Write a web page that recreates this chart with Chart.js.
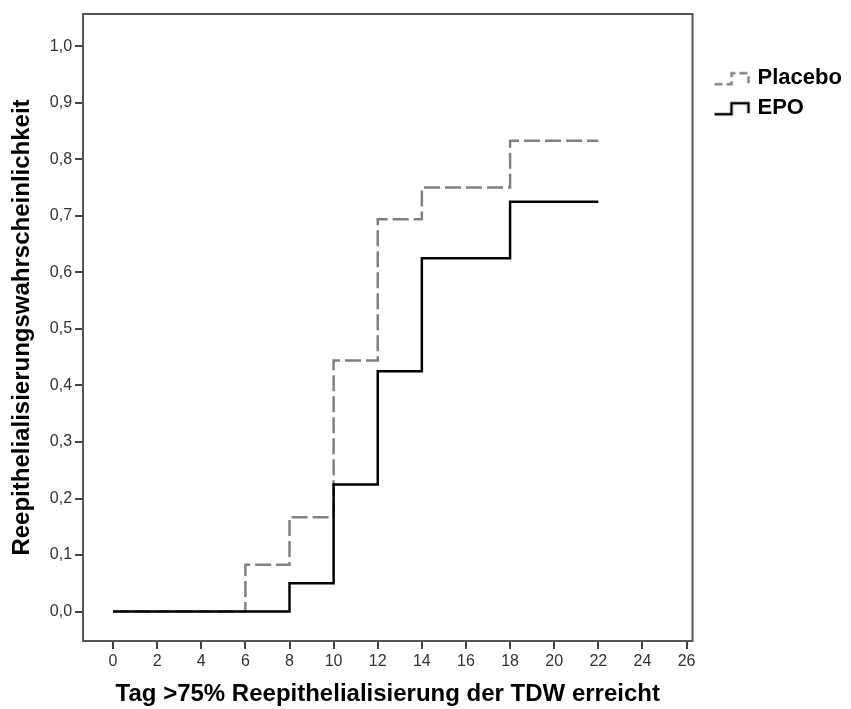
<!DOCTYPE html>
<html>
<head>
<meta charset="utf-8">
<script src="https://cdn.jsdelivr.net/npm/chart.js@4.4.1/dist/chart.umd.min.js"></script>
<style>
  html, body { margin: 0; padding: 0; background: #fff; }
  #wrap { width: 851px; height: 709px; }
</style>
</head>
<body>
<div id="wrap"><canvas id="chart"></canvas></div>
<script>
// Kaplan-Meier style step data (day, cumulative probability)
const placeboDays = [0, 6, 8, 10, 12, 14, 18, 22];
const placeboProb = [0, 0.083, 0.167, 0.444, 0.694, 0.75, 0.833, 0.833];
const epoDays = [0, 8, 10, 12, 14, 18, 22];
const epoProb = [0, 0.05, 0.225, 0.425, 0.625, 0.725, 0.725];

const xTicks = [0, 2, 4, 6, 8, 10, 12, 14, 16, 18, 20, 22, 24, 26];
const yTicks = [0, 0.1, 0.2, 0.3, 0.4, 0.5, 0.6, 0.7, 0.8, 0.9, 1.0];

const FONT = "'Liberation Sans', Arial, sans-serif";

// small step icons for the legend
function stepIcon(color, dash) {
  const c = document.createElement("canvas");
  c.width = 38;
  c.height = 20;
  const g = c.getContext("2d");
  g.strokeStyle = color;
  g.lineWidth = 2.5;
  g.lineJoin = "miter";
  g.setLineDash(dash);
  g.beginPath();
  g.moveTo(1, 16);
  g.lineTo(18, 16);
  g.lineTo(18, 5);
  g.lineTo(35, 5);
  g.lineTo(35, 15);
  g.stroke();
  return c;
}

const placeboIcon = stepIcon("#808080", [8, 4]);
const epoIcon = stepIcon("#000000", []);

// frame around the plot area
const frame = {
  id: "frame",
  afterDraw(chart) {
    const a = chart.chartArea;
    const ctx = chart.ctx;
    ctx.save();
    ctx.strokeStyle = "#555";
    ctx.lineWidth = 2;
    ctx.strokeRect(a.left, a.top, a.right - a.left, a.bottom - a.top);
    ctx.restore();
  },
};

const toPoints = (xs, ys) => xs.map((x, i) => ({ x: x, y: ys[i] }));

new Chart(document.getElementById("chart"), {
  type: "line",
  data: {
    datasets: [
      {
        label: "Placebo",
        data: toPoints(placeboDays, placeboProb),
        stepped: "before",
        borderColor: "#808080",
        borderWidth: 2.5,
        borderDash: [16, 5],
        pointRadius: 0,
        fill: false,
        pointStyle: placeboIcon,
        order: 1,
      },
      {
        label: "EPO",
        data: toPoints(epoDays, epoProb),
        stepped: "before",
        borderColor: "#000000",
        borderWidth: 2.5,
        pointRadius: 0,
        fill: false,
        pointStyle: epoIcon,
        order: 0,
      },
    ],
  },
  options: {
    responsive: true,
    maintainAspectRatio: false,
    animation: false,
    layout: { padding: { top: 14, right: 0, bottom: 0, left: 8 } },
    plugins: {
      tooltip: { enabled: false },
      legend: {
        position: "right",
        align: "start",
        title: { display: true, text: " ", font: { size: 1 }, padding: 22 },
        labels: {
          usePointStyle: true,
          pointStyleWidth: 28,
          color: "#000",
          font: { family: FONT, size: 22, weight: "bold" },
          padding: 8,
          sort: (a, b) => a.datasetIndex - b.datasetIndex,
        },
      },
    },
    scales: {
      x: {
        type: "linear",
        min: -1.36,
        max: 26.27,
        afterBuildTicks: (s) => { s.ticks = xTicks.map((v) => ({ value: v })); },
        grid: { drawOnChartArea: false, tickLength: 8, tickColor: "#444", lineWidth: 2 },
        border: { display: false },
        ticks: {
          color: "#333",
          font: { family: FONT, size: 16 },
          padding: 3,
          maxRotation: 0,
          callback: (v) => String(v),
        },
        title: {
          display: true,
          text: "Tag >75% Reepithelialisierung der TDW erreicht",
          color: "#000",
          font: { family: FONT, size: 24, weight: "bold" },
          padding: { top: 6, bottom: 0 },
        },
      },
      y: {
        min: -0.052,
        max: 1.057,
        afterBuildTicks: (s) => { s.ticks = yTicks.map((v) => ({ value: v })); },
        grid: { drawOnChartArea: false, tickLength: 8, tickColor: "#444", lineWidth: 2 },
        border: { display: false },
        ticks: {
          color: "#333",
          font: { family: FONT, size: 16 },
          padding: 3,
          callback: (v) => v.toFixed(1).replace(".", ","),
        },
        title: {
          display: true,
          text: "Reepithelialisierungswahrscheinlichkeit",
          color: "#000",
          font: { family: FONT, size: 24, weight: "bold" },
          padding: { top: 0, bottom: 10 },
        },
      },
      // empty spacer between plot frame and legend
      gap: {
        position: "right",
        display: true,
        grid: { display: false },
        border: { display: false },
        ticks: { display: false },
        afterFit: (s) => { s.width = 18; },
      },
    },
  },
  plugins: [frame],
});
</script>
</body>
</html>
